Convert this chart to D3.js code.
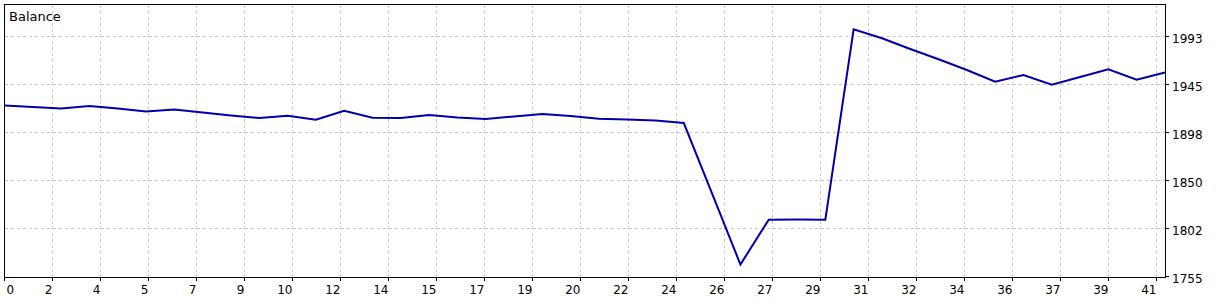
<!DOCTYPE html>
<html><head><meta charset="utf-8">
<script src="https://cdn.jsdelivr.net/npm/d3@7"></script>
<style>
body{margin:0;background:#fff}
svg{display:block}
text{font-family:"DejaVu Sans",sans-serif;font-size:12px;fill:#000}
text.title{font-size:13px}
</style>
</head><body>
<svg id="chart" width="1230" height="300"></svg>
<script>
// ---- data ----
const seriesName = "Balance";
const balance = [
  1924.5, 1923.1, 1921.6, 1924.1, 1921.6, 1918.6, 1920.6, 1917.6, 1914.7, 1912.2,
  1914.5, 1910.4, 1919.4, 1912.5, 1912.2, 1915.2, 1912.7, 1911.2, 1913.7, 1916.1,
  1914.2, 1911.5, 1910.7, 1909.7, 1907.2, 1837.3, 1766.9, 1811.3, 1811.5, 1811.3,
  2000.1, 1991.2, 1980.6, 1970.4, 1959.8, 1948.2, 1954.8, 1945.2, 1952.8, 1960.5,
  1950.2, 1957.3
];
const xTickLabels = ["0","2","4","5","7","9","10","12","14","15","17","19","20",
  "22","24","26","27","29","31","32","34","36","37","39","41"];
const yTickLabels = ["1755","1802","1850","1898","1945","1993"];
const yMin = 1755, yMax = 1993;

// ---- layout ----
const L = 4.5, T = 4.5, R = 1165.5, B = 277.5;
const svg = d3.select("#chart");

const x = d3.scaleLinear().domain([0, balance.length - 1]).range([L, R - 0.5]);
const y = d3.scaleLinear().domain([yMin, yMax]).range([B - 1, 36.5]);
const xGrid = d3.scalePoint().domain(xTickLabels).range([L, L + 48 * (xTickLabels.length - 1)]);
const yGrid = d3.scalePoint().domain(yTickLabels).range([B - 1, 36.5]);

// grid
const grid = svg.append("g").attr("stroke", "#c8c8c8").attr("stroke-dasharray", "3,3")
  .attr("shape-rendering", "crispEdges");
grid.selectAll("line.v").data(xTickLabels.slice(1)).join("line")
  .attr("x1", d => xGrid(d)).attr("x2", d => xGrid(d))
  .attr("y1", T).attr("y2", B);
grid.selectAll("line.h").data(yTickLabels.slice(1)).join("line")
  .attr("x1", L).attr("x2", R)
  .attr("y1", d => yGrid(d)).attr("y2", d => yGrid(d));

// frame
svg.append("rect").attr("x", L).attr("y", T).attr("width", R - L).attr("height", B - T)
  .attr("fill", "none").attr("stroke", "#000").attr("shape-rendering", "crispEdges");

// ticks
const ticks = svg.append("g").attr("stroke", "#000").attr("shape-rendering", "crispEdges");
ticks.selectAll("line.xt").data(xTickLabels).join("line")
  .attr("x1", d => xGrid(d)).attr("x2", d => xGrid(d)).attr("y1", B).attr("y2", B + 3);
ticks.selectAll("line.yt").data(yTickLabels).join("line")
  .attr("x1", R).attr("x2", R + 3).attr("y1", d => yGrid(d)).attr("y2", d => yGrid(d));

// x labels
svg.append("g").selectAll("text").data(xTickLabels).join("text")
  .attr("x", (d, i) => i === 0 ? L + 2 : xGrid(d))
  .attr("y", 294)
  .attr("text-anchor", (d, i) => i === 0 ? "start" : "end")
  .text(d => d);

// y labels
svg.append("g").selectAll("text").data(yTickLabels).join("text")
  .attr("x", 1172)
  .attr("y", d => yGrid(d) + 6)
  .text(d => d);

// title
svg.append("text").attr("class", "title").attr("x", 9).attr("y", 21).text(seriesName);

// line
const line = d3.line().x((d, i) => x(i)).y(d => y(d));
svg.append("path").datum(balance)
  .attr("d", line)
  .attr("fill", "none")
  .attr("stroke", "#0000aa")
  .attr("stroke-width", 2)
  .attr("stroke-linejoin", "miter");
</script>
</body></html>
